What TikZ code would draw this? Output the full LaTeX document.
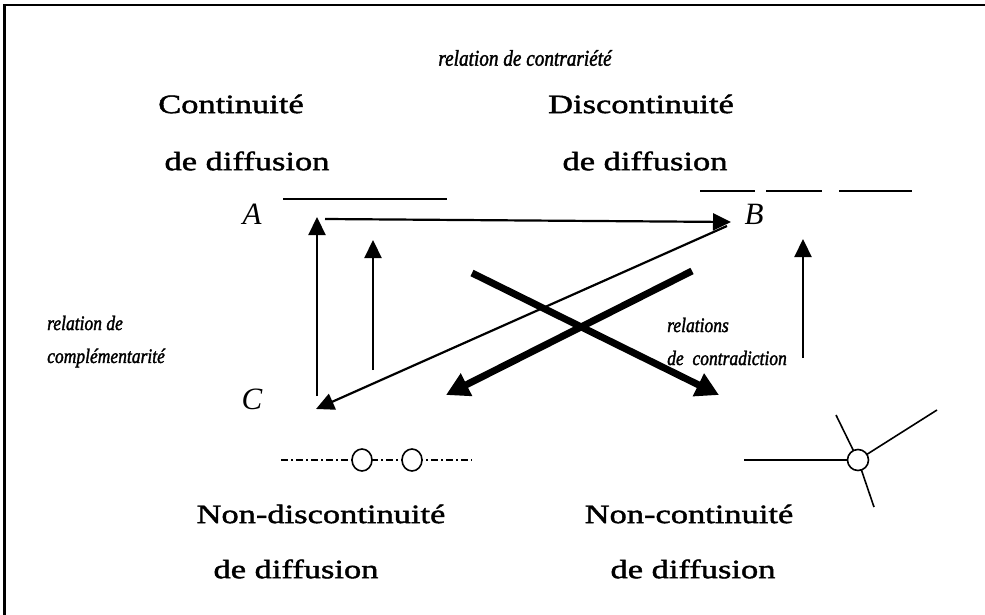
\documentclass[tikz,border=0pt]{standalone}
\usepackage{fontspec}
\setmainfont{Liberation Serif}
\newfontfamily\bigf[FakeStretch=1.3,FakeBold=1.6]{Liberation Serif}
\newfontfamily\labf[FakeStretch=0.85,FakeBold=1.6]{Liberation Serif}
\usetikzlibrary{arrows.meta,shapes.geometric}
\begin{document}
\begin{tikzpicture}[x=1pt,y=-1pt,
  big/.style={font=\bigf\fontsize{26.5}{30}\selectfont, inner sep=0pt},
  lab/.style={font=\labf\itshape\fontsize{20.6}{24}\selectfont, inner sep=0pt, anchor=west},
  toplab/.style={font=\labf\itshape\fontsize{22.6}{26}\selectfont, inner sep=0pt},
  letter/.style={font=\fontsize{31}{34}\selectfont\itshape, inner sep=0pt},
  thinarrow/.style={line width=2.2pt, -{Triangle[length=18pt,width=17pt]}},
  thickarrow/.style={line width=7pt, -{Triangle[length=23pt,width=24pt]}},
  bar/.style={line width=1.6pt},
  mark circle/.style={draw, line width=1.6pt, fill=white, circle, minimum size=21pt, inner sep=0pt},
  mark oval/.style={draw, line width=1.6pt, fill=white, ellipse, minimum width=20pt, minimum height=22pt, inner sep=0pt},
]
\useasboundingbox (0,0) rectangle (985,615);
% frame
\draw[line width=2.8pt] (985,5) -- (4.5,5) -- (4.5,615);

% texts
\node[toplab] (contr) at (525,58) {relation de contrariété};
\node[big] (t1a) at (231,104) {Continuité};
\node[big] (t1b) at (247,161) {de diffusion};
\node[big] (t2a) at (641,104) {Discontinuité};
\node[big] (t2b) at (645,161) {de diffusion};
\node[big] (t3a) at (321,514) {Non-discontinuité};
\node[big] (t3b) at (296,569) {de diffusion};
\node[big] (t4a) at (689,514) {Non-continuité};
\node[big] (t4b) at (693,569) {de diffusion};
\node[lab] (compa) at (47,323) {relation de};
\node[lab] (compb) at (47,358) {complémentarité};
\node[lab] (ctra) at (667,325) {relations};
\node[lab] (ctrb) at (667,358) {de\ \ contradiction};

% letters
\node[letter] (A) at (252,214) {A};
\node[letter] (B) at (754,214) {B};
\node[letter] (C) at (252,399) {C};

% bars
\coordinate (la1) at (283,199); \coordinate (la2) at (447,199);
\draw[bar] (la1) -- (la2);
\coordinate (d1a) at (700,191); \coordinate (d1b) at (755,191);
\coordinate (d2a) at (766,191); \coordinate (d2b) at (822,191);
\coordinate (d3a) at (839,191); \coordinate (d3b) at (912,191);
\draw[bar] (d1a) -- (d1b);
\draw[bar] (d2a) -- (d2b);
\draw[bar] (d3a) -- (d3b);

% arrows
\coordinate (a1) at (325,219); \coordinate (b1) at (731,222);
\draw[thinarrow] (a1) -- (b1);
\coordinate (c1) at (317,396); \coordinate (a2) at (317,217);
\draw[thinarrow] (c1) -- (a2);
\coordinate (c2) at (373,370); \coordinate (a3) at (373,240);
\draw[thinarrow] (c2) -- (a3);
\coordinate (b2) at (727,226); \coordinate (c3) at (316,409);
\draw[thinarrow] (b2) -- (c3);
\coordinate (r1) at (803,358); \coordinate (r2) at (803,239);
\draw[thinarrow] (r1) -- (r2);
\coordinate (t1s) at (472,273); \coordinate (t1e) at (719,395);
\draw[thickarrow] (t1s) -- (t1e);
\coordinate (t2s) at (692,271); \coordinate (t2e) at (446,395);
\draw[thickarrow] (t2s) -- (t2e);

% dash-dot symbol
\coordinate (dd1) at (281,460); \coordinate (dd2) at (472,460);
\draw[line width=1.4pt, dash pattern=on 7pt off 3pt on 2pt off 3pt] (dd1) -- (dd2);
\node[mark oval] (o1) at (362,460) {};
\node[mark oval] (o2) at (412,460) {};

% Y symbol
\coordinate (yc) at (858,460);
\coordinate (y1) at (744,460);
\coordinate (y2) at (937,410);
\coordinate (y3) at (836,415);
\coordinate (y4) at (874,507);
\draw[line width=1.6pt] (y1) -- (yc) (yc) -- (y2) (yc) -- (y3) (yc) -- (y4);
\node[mark circle] (oy) at (yc) {};
\end{tikzpicture}
\end{document}
